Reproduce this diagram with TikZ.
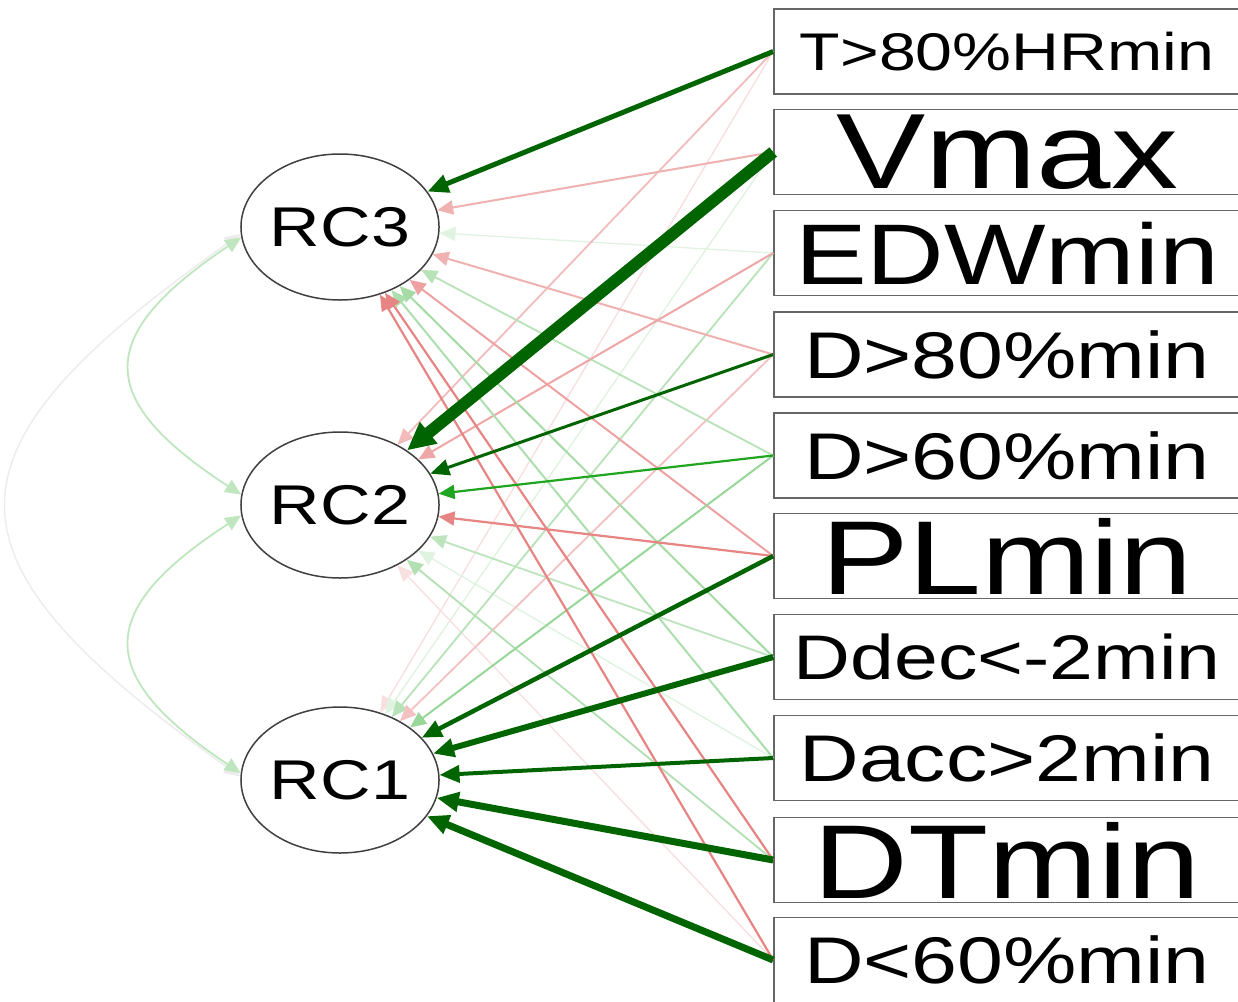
\documentclass[tikz,border=0pt]{standalone}
\usepackage{fontspec}
\setmainfont{Liberation Sans}[FakeStretch=1.25]
\usetikzlibrary{shapes.geometric,arrows.meta}
\definecolor{dkG}{HTML}{006400}
\definecolor{posG}{HTML}{009900}
\definecolor{negR}{HTML}{D42020}
\definecolor{boxgray}{HTML}{666666}
\definecolor{ellgray}{HTML}{404040}
\newcommand\fsz[1]{\fontsize{#1pt}{#1pt}\selectfont}
\tikzset{
  lbox/.style={draw=boxgray, line width=1.6pt, fill=white, minimum width=466pt,
    minimum height=85pt, inner sep=0pt},
  fac/.style={ellipse, draw=ellgray, line width=1.5pt, fill=white, minimum width=186pt,
    minimum height=146pt, inner sep=0pt, font=\fsz{56}},
  tipS/.style={-{Triangle[length=16pt,width=14pt]}},
  pos/.style={draw=posG!#1!white, tipS},
  neg/.style={draw=negR!#1!white, tipS},
  strong/.style={draw=dkG, line width=#1pt},
  cov/.style={line width=1.8pt, {Triangle[length=16pt,width=14pt]}-{Triangle[length=16pt,width=14pt]}},
}
\begin{document}
\begin{tikzpicture}[x=1pt,y=-1pt]
\useasboundingbox (0,0) rectangle (1238,1001);
\clip (0,0) rectangle (1238,1001);
\fill[white] (0,0) rectangle (1238,1001);

% indicator boxes
\node[lbox, font=\fsz{53}]  (b1)  at (1007,51.5)  {T>80\%HRmin};
\node[lbox, font=\fsz{107}] (b2)  at (1007,152)   {Vmax};
\node[lbox, font=\fsz{86}]  (b3)  at (1007,253)   {EDWmin};
\node[lbox, font=\fsz{66}]  (b4)  at (1007,354.5) {D>80\%min};
\node[lbox, font=\fsz{66}]  (b5)  at (1007,455.5) {D>60\%min};
\node[lbox, font=\fsz{105}] (b6)  at (1007,556)   {PLmin};
\node[lbox, font=\fsz{63}]  (b7)  at (1007,657)   {Ddec<-2min};
\node[lbox, font=\fsz{66}]  (b8)  at (1007,758)   {Dacc>2min};
\node[lbox, font=\fsz{105}] (b9)  at (1007,860)   {DTmin};
\node[lbox, font=\fsz{66}]  (b10) at (1007,960)   {D<60\%min};

% factors
\node[fac] (rc3) at (340,227) {RC3};
\node[fac] (rc2) at (340,505) {RC2};
\node[fac] (rc1) at (340,780) {RC1};

% covariances
\draw[cov, draw=negR!8!gray!15!white, line width=1.4pt]
  (rc3.184) .. controls (-70,454) and (-70,556) .. (rc1.178);
\draw[cov, draw=posG!25!white] (rc3.186) .. controls (94,336) and (94,399) .. (rc2.174);
\draw[cov, draw=posG!25!white] (rc2.186) .. controls (94,611) and (94,675) .. (rc1.176);

% weak loadings
\draw[neg=14, line width=1.4pt] (b1.west) -- (rc1);
\draw[pos=12, line width=1.4pt] (b2.west) -- (rc1);
\draw[pos=12, line width=1.3pt] (b3.west) -- (rc3);
\draw[pos=12, line width=1.4pt] (b8.west) -- (rc2);
\draw[neg=14, line width=1.4pt] (b10.west) -- (rc2);
\draw[neg=30, line width=1.8pt] (b1.west) -- (rc2);
\draw[pos=28, line width=1.8pt] (b3.west) -- (rc1);
\draw[neg=28, line width=1.8pt] (b4.west) -- (rc1);
\draw[pos=26, line width=1.8pt] (b7.west) -- (rc2);
\draw[pos=30, line width=1.8pt] (b9.west) -- (rc2);
\draw[pos=28, line width=1.8pt] (b5.west) -- (rc3);
\draw[neg=35, line width=2pt] (b2.west) -- (rc3);
\draw[neg=35, line width=2pt] (b4.west) -- (rc3);
\draw[neg=40, line width=2pt] (b3.west) -- (rc2);
\draw[neg=42, line width=2pt] (b6.west) -- (rc3);
\draw[pos=35, line width=2pt] (b7.west) -- (rc3);
\draw[pos=32, line width=2pt] (b8.west) -- (rc3);
\draw[pos=40, line width=2pt] (b5.west) -- (rc1);
\draw[neg=55, line width=2.2pt] (b9.west) -- (rc3);
\draw[neg=55, line width=2.2pt] (b10.west) -- (rc3);
\draw[neg=55, line width=2.2pt] (b6.west) -- (rc2);
\draw[pos=88, line width=2.2pt] (b5.west) -- (rc2);

% strong loadings
\draw[strong=3, -{Triangle[length=19pt,width=16pt]}] (b4.west) -- (rc2);
\draw[strong=5, -{Triangle[length=21pt,width=18pt]}] (b1.west) -- (rc3);
\draw[strong=12, -{Triangle[length=28pt,width=26pt]}] (b2.west) -- (rc2);
\draw[strong=4.5, -{Triangle[length=20pt,width=17pt]}] (b6.west) -- (rc1);
\draw[strong=6, -{Triangle[length=21pt,width=18pt]}] (b7.west) -- (rc1);
\draw[strong=4, -{Triangle[length=20pt,width=17pt]}] (b8.west) -- (rc1);
\draw[strong=7, -{Triangle[length=22pt,width=19pt]}] (b9.west) -- (rc1);
\draw[strong=7, -{Triangle[length=22pt,width=19pt]}] (b10.west) -- (rc1);
\end{tikzpicture}
\end{document}
